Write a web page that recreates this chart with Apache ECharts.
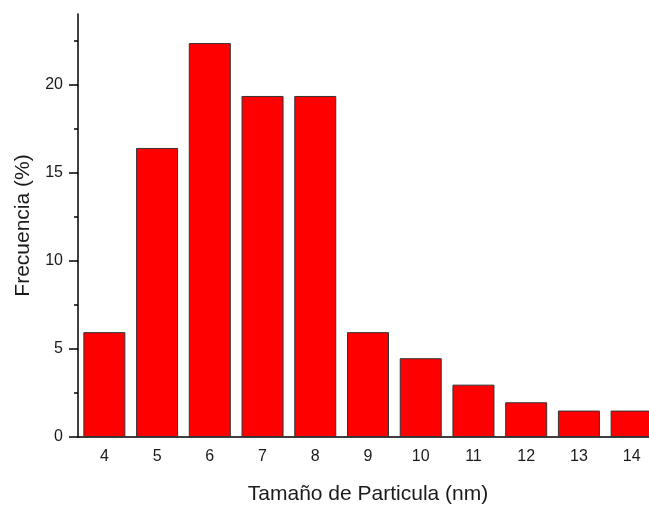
<!DOCTYPE html>
<html>
<head>
<meta charset="utf-8">
<script src="https://cdn.jsdelivr.net/npm/echarts@6/dist/echarts.min.js"></script>
<style>html,body{margin:0;padding:0;background:#fff;overflow:hidden;width:649px;height:510px}#c{width:670px;height:510px}</style>
</head>
<body>
<div id="c"></div>
<script>
var categories = ['4','5','6','7','8','9','10','11','12','13','14'];
var frequency = [5.95, 16.4, 22.35, 19.35, 19.35, 5.95, 4.47, 2.97, 1.97, 1.5, 1.5];
var yTickLabels = [0, 5, 10, 15, 20];
var yMinorTicks = [2.5, 7.5, 12.5, 17.5, 22.5];
var xTitle = 'Tamaño de Particula (nm)';
var yTitle = 'Frecuencia (%)';

var chart = echarts.init(document.getElementById('c'), null, {renderer: 'canvas'});
var font = 'Liberation Sans, Arial, sans-serif';
chart.setOption({
  animation: false,
  grid: {left: 78, top: 14, width: 580, height: 428, containLabel: false},
  xAxis: [{
    type: 'category', data: categories, boundaryGap: true,
    axisLine: {lineStyle: {color: '#000', width: 1.5}},
    axisTick: {alignWithLabel: true, length: 8, lineStyle: {color: '#000', width: 1.5}},
    axisLabel: {color: '#1a1a1a', fontSize: 16, fontFamily: font, margin: 12},
    name: xTitle, nameLocation: 'middle', nameGap: 47,
    nameTextStyle: {color: '#1a1a1a', fontSize: 21, fontFamily: font},
    splitLine: {show: false}
  }, {
    type: 'category', data: categories, boundaryGap: true, position: 'bottom',
    axisLine: {show: false},
    axisTick: {length: 4, lineStyle: {color: '#000', width: 1.5}},
    axisLabel: {show: false}, splitLine: {show: false}
  }],
  yAxis: [{
    type: 'value', min: 0, max: 24,
    axisLine: {show: true, lineStyle: {color: '#000', width: 1.5}},
    axisTick: {show: true, length: 9, customValues: yTickLabels, lineStyle: {color: '#000', width: 1.5}},
    axisLabel: {customValues: yTickLabels, color: '#1a1a1a', fontSize: 16, fontFamily: font, margin: 15},
    splitLine: {show: false},
    name: yTitle, nameLocation: 'middle', nameGap: 44, nameRotate: 90,
    nameTextStyle: {color: '#1a1a1a', fontSize: 21, fontFamily: font}
  }, {
    type: 'value', min: 0, max: 24, position: 'left',
    axisLine: {show: false},
    axisTick: {show: true, length: 4, customValues: yMinorTicks, lineStyle: {color: '#000', width: 1.5}},
    axisLabel: {show: false}, splitLine: {show: false}
  }],
  series: [{
    type: 'bar', data: frequency, xAxisIndex: 0, yAxisIndex: 0,
    barWidth: 42,
    itemStyle: {color: '#ff0000', borderColor: '#333', borderWidth: 1}
  }]
});
</script>
</body>
</html>
